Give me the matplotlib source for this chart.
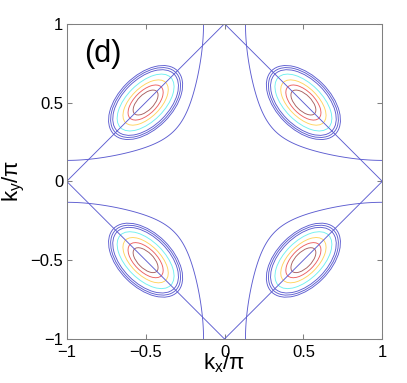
import numpy as np
import matplotlib
matplotlib.use("Agg")
import matplotlib.pyplot as plt
from matplotlib.patches import Ellipse

plt.rcParams['font.family'] = ['Liberation Sans', 'DejaVu Sans']
plt.rcParams['mathtext.fontset'] = 'custom'
plt.rcParams['mathtext.rm'] = 'Liberation Sans'
plt.rcParams['mathtext.it'] = 'Liberation Sans'

# --- data ---
# band parameters fitted to the blue Fermi-surface arcs (units of t)
t1, t2, t3, mu = 1.0, -0.513, -0.0296, -1.605

# AF zone boundary |kx|+|ky| = 1
diamond_x = [1, 0, -1, 0, 1]
diamond_y = [0, 1, 0, -1, 0]

# pocket centres and orientation of their long axis (deg)
pocket_x = [-0.5, 0.5, -0.5, 0.5]
pocket_y = [0.5, 0.5, -0.5, -0.5]
pocket_angle = [45, -45, -45, 45]

# contour rings, inner -> outer (semi-axes in units of pi)
ring_major = [0.100, 0.140, 0.180, 0.225, 0.255, 0.270, 0.285]
ring_minor = [0.050, 0.072, 0.094, 0.120, 0.147, 0.159, 0.170]
ring_color = ['#a86060', '#ec6060', '#ffd45e', '#70f0f0',
              '#5c5cd0', '#5c5cd0', '#5c5cd0']

ticks = [-1, -0.5, 0, 0.5, 1]
tick_labels = ['\u22121', '\u22120.5', '0', '0.5', '1']

line_blue = '#5c5cd0'

fig = plt.figure(figsize=(4.07, 3.83), dpi=100)
ax = fig.add_axes([0.1639, 0.1149, 0.9393 - 0.1639, 0.9381 - 0.1149])

# Fermi surface
k = np.linspace(-1, 1, 801)
KX, KY = np.meshgrid(k, k)
cx, cy = np.cos(np.pi * KX), np.cos(np.pi * KY)
E = (-2 * t1 * (cx + cy) - 4 * t2 * cx * cy
     - 2 * t3 * (np.cos(2 * np.pi * KX) + np.cos(2 * np.pi * KY)) - mu)
ax.contour(KX, KY, E, levels=[0], colors=line_blue, linewidths=0.65)

# zone boundary
ax.plot(diamond_x, diamond_y, color=line_blue, lw=0.65)

# pockets
for px, py, ang in zip(pocket_x, pocket_y, pocket_angle):
    for a, b, c in zip(ring_major, ring_minor, ring_color):
        ax.add_patch(Ellipse((px, py), 2 * a, 2 * b, angle=ang,
                             fill=False, edgecolor=c, lw=0.65))

ax.set_xlim(-1, 1)
ax.set_ylim(-1, 1)
ax.set_xticks(ticks)
ax.set_yticks(ticks)
ax.set_xticklabels(tick_labels)
ax.set_yticklabels(tick_labels)
ax.tick_params(direction='in', top=True, right=True, length=3.5,
               width=0.75, color='#808080', labelsize=12)
ax.tick_params(axis='x', pad=4.5)
ax.tick_params(axis='y', pad=2.5)
for s in ax.spines.values():
    s.set_color('#808080')
    s.set_linewidth(0.75)

ax.text(-0.89, 0.81, '(d)', fontsize=22, ha='left', va='center')

ax.set_xlabel('k$_{\\mathrm{x}}$/\u03c0', fontsize=16, va='top')
ax.xaxis.set_label_coords(0.5, -0.040)
ax.set_ylabel('k$_{\\mathrm{y}}$/\u03c0', fontsize=16)
ax.yaxis.set_label_coords(-0.125, 0.5)

fig.savefig('out.png', dpi=100)
